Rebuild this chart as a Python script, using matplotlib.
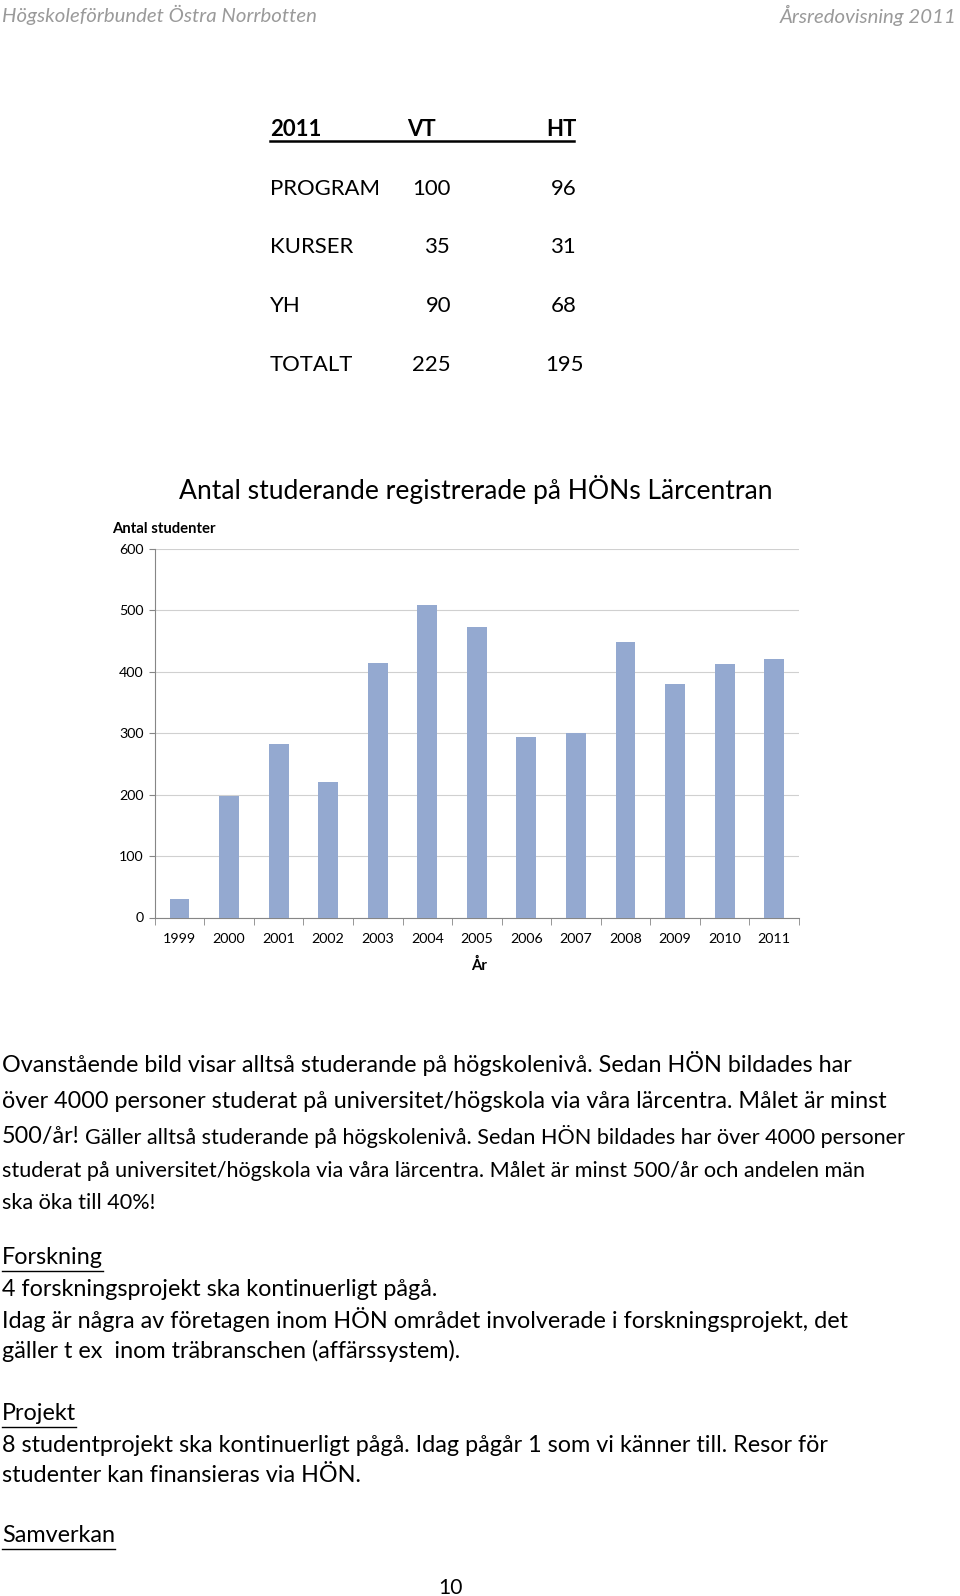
import numpy as np
import matplotlib.pyplot as plt
from matplotlib.lines import Line2D

W, H = 960, 1596
plt.rcParams['font.family'] = ['Lato', 'DejaVu Sans']

# data
years = ['1999', '2000', '2001', '2002', '2003', '2004', '2005',
         '2006', '2007', '2008', '2009', '2010', '2011']
students = [30, 198, 282, 220, 414, 508, 472, 293, 300, 448, 380, 412, 420]

table_head = ['2011', 'VT', 'HT']
table_rows = ['PROGRAM', 'KURSER', 'YH', 'TOTALT']
vt_values = [100, 35, 90, 225]
ht_values = [96, 31, 68, 195]

fig = plt.figure(figsize=(9.6, 15.96), dpi=100)
rend = fig.canvas.get_renderer()


def fx(x):
    return x / W


def fy(y):
    return 1 - y / H


def fit(s, width, **kw):
    # font size that gives the text the wanted width in pixels
    t = fig.text(0, 0, s, fontsize=10, **kw)
    w = t.get_window_extent(renderer=rend).width
    t.remove()
    return 10 * width / w


def put(x, y, s, size, **kw):
    return fig.text(fx(x), fy(y), s, fontsize=size, va='center', **kw)


def underline(t, y, lw=1.0):
    bb = t.get_window_extent(renderer=rend)
    fig.add_artist(Line2D([bb.x0 / W, bb.x1 / W], [fy(y), fy(y)], color='black', lw=lw))


# page header
hs = fit('Högskoleförbundet Östra Norrbotten', 315, style='italic')
put(2, 15, 'Högskoleförbundet Östra Norrbotten', hs, color='#9a9a9a', style='italic')
put(957, 15, 'Årsredovisning 2011', hs, color='#9a9a9a', style='italic', ha='right')

# small table
ts = fit('PROGRAM', 110)
put(270, 130, table_head[0], ts, weight='bold')
put(407, 130, table_head[1], ts, weight='bold')
put(546, 130, table_head[2], ts, weight='bold')
fig.add_artist(Line2D([fx(270), fx(574)], [fy(141), fy(141)], color='black', lw=1.8))
row_y = [189, 247, 306, 365]
for i in range(len(table_rows)):
    put(270, row_y[i], table_rows[i], ts)
    put(451, row_y[i], str(vt_values[i]), ts, ha='right')
    put(564, row_y[i], str(ht_values[i]), ts, ha='center')

# chart
title = 'Antal studerande registrerade på HÖNs Lärcentran'
put(476, 489, title, fit(title, 592), ha='center')
put(112, 529, 'Antal studenter', fit('Antal studenter', 104, weight='bold'), weight='bold')

tick_size = fit('1999', 33)
ax = fig.add_axes([fx(154.7), fy(917.5), (799 - 154.7) / W, (917.5 - 548.7) / H])
x = np.arange(len(years))
ax.bar(x, students, width=0.4, color='#94a9d0', zorder=3)
ax.set_xlim(-0.5, len(years) - 0.5)
ax.set_ylim(0, 600)
ax.set_yticks(np.arange(0, 601, 100))
ax.grid(axis='y', color='#d0d0d0', lw=0.8, zorder=0)
ax.set_xticks(x)
ax.set_xticklabels(years)
ax.set_xticks(np.arange(-0.5, len(years)), minor=True)
ax.tick_params(axis='x', which='major', length=0, pad=11, labelsize=tick_size)
ax.tick_params(axis='x', which='minor', length=5, color='#868686')
ax.tick_params(axis='y', length=4, color='#868686', labelsize=tick_size, pad=4)
for s in ['top', 'right']:
    ax.spines[s].set_visible(False)
for s in ['left', 'bottom']:
    ax.spines[s].set_color('#868686')
put(479, 965, 'År', tick_size * 1.05, weight='bold', ha='center')

# body text
line1 = 'Ovanstående bild visar alltså studerande på högskolenivå. Sedan HÖN bildades har'
line4 = 'studerat på universitet/högskola via våra lärcentra. Målet är minst 500/år och andelen män'
body = fit(line1, 849)
small = fit(line4, 861)
put(2, 1064, line1, body)
put(2, 1102, 'över 4000 personer studerat på universitet/högskola via våra lärcentra. Målet är minst', body)
t = put(2, 1137, '500/år!', body)
bb = t.get_window_extent(renderer=rend)
put(bb.x1 + 5, 1137, 'Gäller alltså studerande på högskolenivå. Sedan HÖN bildades har över 4000 personer', small)
put(2, 1171, line4, small)
put(2, 1203, 'ska öka till 40%!', small)

t = put(2, 1258, 'Forskning', body)
underline(t, 1271)
put(2, 1290, '4 forskningsprojekt ska kontinuerligt pågå.', body)
put(2, 1319, 'Idag är några av företagen inom HÖN området involverade i forskningsprojekt, det', body)
put(2, 1351, 'gäller t ex  inom träbranschen (affärssystem).', body)

t = put(2, 1414, 'Projekt', body)
underline(t, 1427)
put(2, 1446, '8 studentprojekt ska kontinuerligt pågå. Idag pågår 1 som vi känner till. Resor för', body)
put(2, 1476, 'studenter kan finansieras via HÖN.', body)

t = put(2, 1536, 'Samverkan', body)
underline(t, 1549)

put(450, 1588, '10', body * 0.9, ha='center')

fig.savefig('out.png', dpi=100)
